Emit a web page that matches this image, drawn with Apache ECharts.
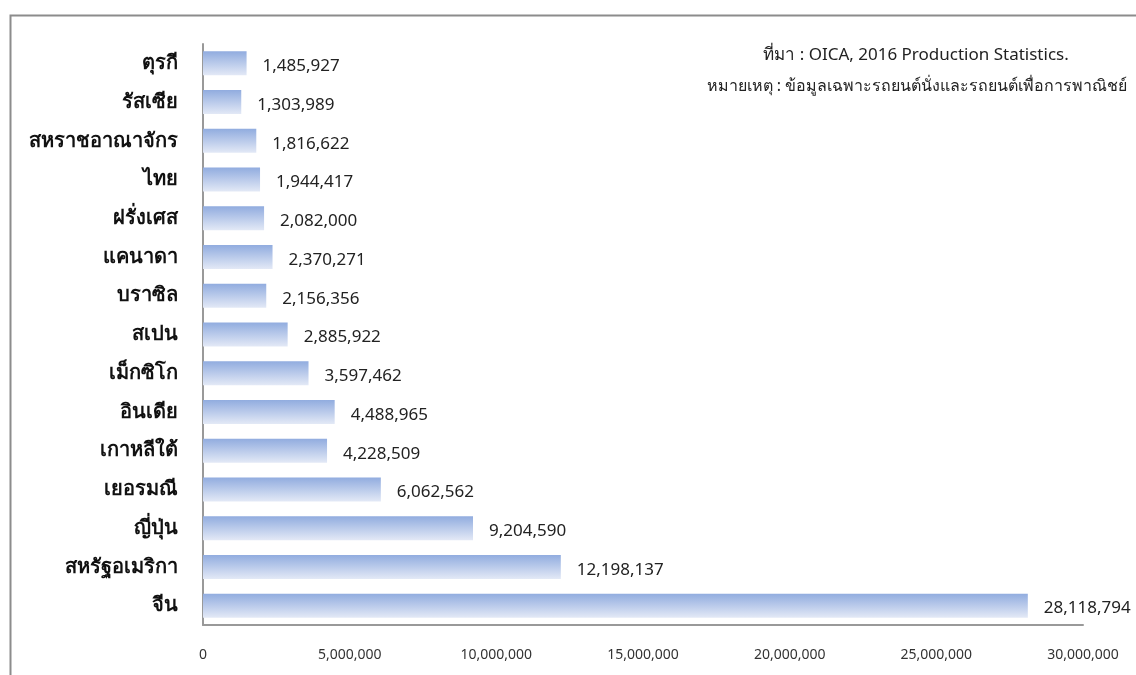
<!DOCTYPE html>
<html>
<head>
<meta charset="utf-8">
<script src="https://cdn.jsdelivr.net/npm/echarts@6/dist/echarts.min.js"></script>
<style>
html,body{margin:0;padding:0;background:#fff;}
#c{width:1136px;height:675px;}
</style>
</head>
<body>
<div id="c"></div>
<script>
const categories = ['จีน','สหรัฐอเมริกา','ญี่ปุ่น','เยอรมณี','เกาหลีใต้','อินเดีย','เม็กซิโก','สเปน','บราซิล','แคนาดา','ฝรั่งเศส','ไทย','สหราชอาณาจักร','รัสเซีย','ตุรกี'];
const values = [28118794,12198137,9204590,6062562,4228509,4488965,3597462,2885922,2156356,2370271,2082000,1944417,1816622,1303989,1485927];
const xTicks = [0,5000000,10000000,15000000,20000000,25000000,30000000];
const noteLines = ['ที่มา : OICA, 2016 Production Statistics.','หมายเหตุ : ข้อมูลเฉพาะรถยนต์นั่งและรถยนต์เพื่อการพาณิชย์'];

const FONT = '"Noto Sans", "DejaVu Sans", sans-serif';
const fmt = v => v.toLocaleString('en-US');
const chart = echarts.init(document.getElementById('c'));
chart.setOption({
  animation:false,
  backgroundColor:'#fff',
  graphic:[
    {type:'polyline', shape:{points:[[10.5,700],[10.5,15.5],[1200,15.5]]}, style:{stroke:'#8c8c8c', lineWidth:2, fill:null}},
    {type:'text', x:916, y:47, style:{text:noteLines[0], font:'17px '+FONT, fill:'#222', align:'center'}},
    {type:'text', x:917, y:78, style:{text:noteLines[1], font:'16px '+FONT, fill:'#222', align:'center'}}
  ],
  grid:{left:203, right:53, top:44, bottom:50, containLabel:false},
  xAxis:{
    type:'value', min:0, max:30000000, interval:5000000,
    axisLine:{show:true, lineStyle:{color:'#999', width:2}},
    axisTick:{show:false},
    splitLine:{show:false},
    axisLabel:{color:'#333', fontSize:14, fontFamily:FONT, margin:23,
      formatter: v => xTicks.indexOf(v) >= 0 ? fmt(v) : ''}
  },
  yAxis:{
    type:'category', data:categories,
    axisLine:{show:true, lineStyle:{color:'#999', width:2}},
    axisTick:{show:false},
    axisLabel:{color:'#111', fontSize:20, fontWeight:'bold', fontFamily:FONT, margin:25, padding:[7,0,0,0]}
  },
  series:[{
    type:'bar', data:values, barCategoryGap:'38%',
    itemStyle:{color:new echarts.graphic.LinearGradient(0,0,0,1,[{offset:0,color:'#91acdf'},{offset:1,color:'#e3e9f6'}])},
    label:{show:true, position:'right', distance:16, offset:[0,3], color:'#222', fontSize:17, fontFamily:FONT, formatter: p => fmt(p.value)}
  }]
});
</script>
</body>
</html>
